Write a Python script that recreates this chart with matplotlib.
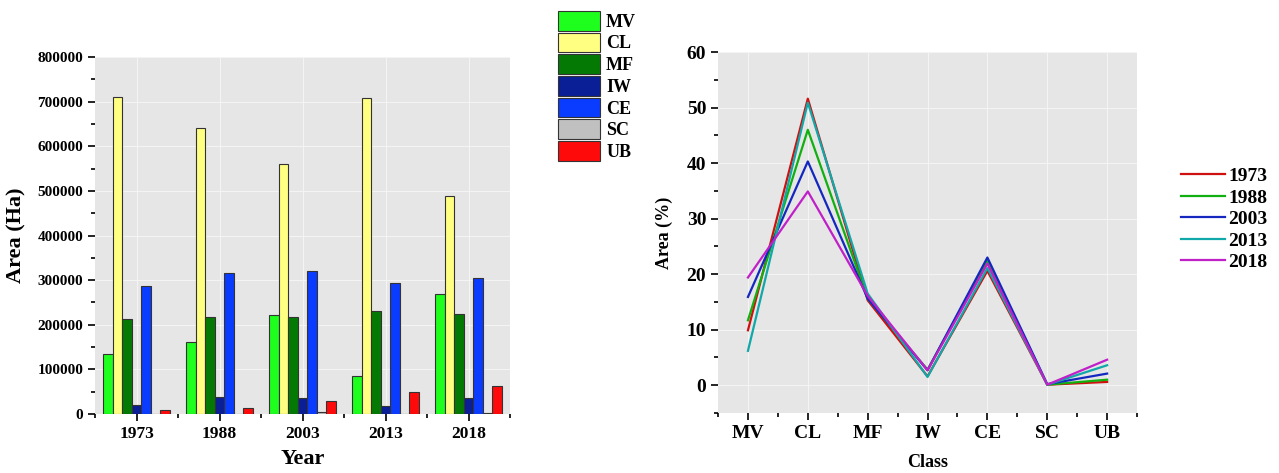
import numpy as np
import matplotlib
matplotlib.use("Agg")
import matplotlib.pyplot as plt
from matplotlib.ticker import MultipleLocator

plt.rcParams['font.family'] = ['Liberation Serif', 'DejaVu Serif']
plt.rcParams['font.weight'] = 'bold'

# data
years = ['1973', '1988', '2003', '2013', '2018']
classes = ['MV', 'CL', 'MF', 'IW', 'CE', 'SC', 'UB']

# area (Ha) per class, one list per class over the years
area_mv = [135000, 162000, 221000, 85000, 268500]
area_cl = [711000, 642000, 561000, 709000, 487700]
area_mf = [212500, 217000, 217000, 230000, 225000]
area_iw = [21000, 39000, 37000, 19000, 36500]
area_ce = [287000, 315000, 320000, 294500, 305000]
area_sc = [500, 1000, 4500, 500, 2000]
area_ub = [8000, 13000, 29000, 50000, 63500]

# area (%) per year over the classes
pct_1973 = [9.9, 51.6, 15.3, 1.6, 20.6, 0.1, 0.6]
pct_1988 = [11.7, 46.0, 15.6, 2.8, 22.5, 0.1, 1.0]
pct_2003 = [15.9, 40.3, 15.6, 2.7, 23.0, 0.2, 2.1]
pct_2013 = [6.2, 50.9, 16.5, 1.5, 21.1, 0.1, 3.6]
pct_2018 = [19.4, 34.9, 16.1, 2.7, 21.9, 0.1, 4.6]

bar_colors = ['#1EFF1E', '#FFFF82', '#047A04', '#0A1E96', '#0A3CFF', '#C0C0C0', '#FF0A0A']
line_colors = ['#D01010', '#10B010', '#1428C0', '#10A8A8', '#C020C8']

BG = '#E6E6E6'

fig = plt.figure(figsize=(12.79, 4.73), dpi=100)

# ---- left: grouped bars
ax1 = fig.add_axes([0.0743, 0.1247, 0.3245, 0.7548])
ax1.set_facecolor(BG)
series = [area_mv, area_cl, area_mf, area_iw, area_ce, area_sc, area_ub]
x = np.arange(len(years))
n = len(series)
w = 0.8 / n
for i, (vals, c, lab) in enumerate(zip(series, bar_colors, classes)):
    ax1.bar(x - 0.4 + w * (i + 0.5), vals, w, color=c, edgecolor='#333333',
            linewidth=0.8, label=lab, zorder=3)

ax1.set_xlim(-0.5, 4.5)
ax1.set_ylim(0, 800000)
ax1.set_xticks(x)
ax1.set_xticklabels(years)
ax1.xaxis.set_minor_locator(MultipleLocator(0.5))
ax1.yaxis.set_major_locator(MultipleLocator(100000))
ax1.yaxis.set_minor_locator(MultipleLocator(50000))
ax1.grid(True, which='major', color='#F4F4F4', linewidth=0.8, zorder=0)
for s in ax1.spines.values():
    s.set_visible(False)
ax1.tick_params(axis='both', which='major', length=5, width=1.2, color='black')
ax1.tick_params(axis='both', which='minor', length=3, width=1.2, color='black')
ax1.tick_params(axis='y', labelsize=11)
ax1.tick_params(axis='x', labelsize=12.5)
ax1.set_ylabel('Area (Ha)', fontsize=16, fontweight='bold', labelpad=8)
ax1.set_xlabel('Year', fontsize=16, fontweight='bold', labelpad=5)

h1, l1 = ax1.get_legend_handles_labels()
fig.legend(h1, l1, loc='upper left', bbox_to_anchor=(0.428, 1.0), frameon=False,
           prop={'weight': 'bold', 'size': 13}, handlelength=2.3, handleheight=1.3,
           labelspacing=0.1, handletextpad=0.35, borderaxespad=0.2)

# ---- right: percentage lines
ax2 = fig.add_axes([0.5614, 0.1268, 0.3276, 0.7632])
ax2.set_facecolor(BG)
pos = np.arange(len(classes))
for vals, c, lab in zip([pct_1973, pct_1988, pct_2003, pct_2013, pct_2018], line_colors, years):
    ax2.plot(pos, vals, color=c, linewidth=1.6, label=lab, zorder=3)

ax2.set_xlim(-0.5, 6.5)
ax2.set_ylim(-5, 60)
ax2.set_xticks(pos)
ax2.set_xticklabels(classes)
ax2.xaxis.set_minor_locator(MultipleLocator(0.5))
ax2.yaxis.set_major_locator(MultipleLocator(10))
ax2.yaxis.set_minor_locator(MultipleLocator(5))
ax2.grid(True, which='major', color='#F4F4F4', linewidth=0.8, zorder=0)
for s in ax2.spines.values():
    s.set_visible(False)
ax2.tick_params(axis='both', which='major', length=5, width=1.2, color='black', labelsize=14)
ax2.tick_params(axis='both', which='minor', length=3, width=1.2, color='black')
ax2.set_ylabel('Area (%)', fontsize=13, fontweight='bold', labelpad=10)
ax2.set_xlabel('Class', fontsize=13, fontweight='bold', labelpad=9)

h2, l2 = ax2.get_legend_handles_labels()
fig.legend(h2, l2, loc='upper left', bbox_to_anchor=(0.917, 0.662), frameon=False,
           prop={'weight': 'bold', 'size': 14}, handlelength=2.3,
           labelspacing=0.2, handletextpad=0.15, borderaxespad=0.0)

fig.savefig('out.png', dpi=100)
